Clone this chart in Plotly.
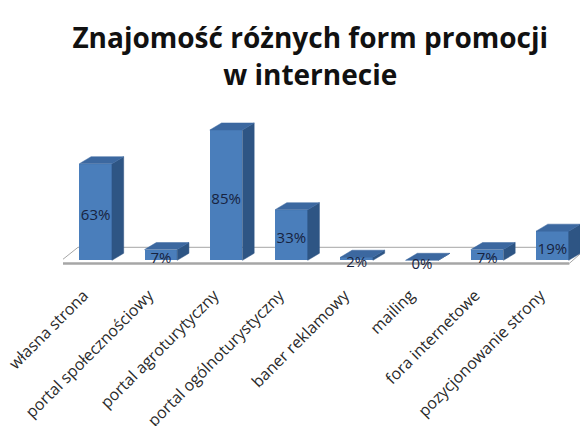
import plotly.graph_objects as go

categories = ["własna strona", "portal społecznościowy", "portal agroturytyczny",
              "portal ogólnoturystyczny", "baner reklamowy", "mailing",
              "fora internetowe", "pozycjonowanie strony"]
values = [63, 7, 85, 33, 2, 0, 7, 19]
labels = [f"{v}%" for v in values]

title_text = "Znajomość różnych form promocji<br>w internecie"

FRONT = "#4A7EBB"
SIDE = "#2E5584"
TOP = "#3C68A0"
BAR_W = 0.5
DX = 0.18
DY = 4.6

xs = list(range(len(categories)))

side_x, side_y, top_x, top_y = [], [], [], []
for i, v in zip(xs, values):
    r = i + BAR_W / 2
    l = i - BAR_W / 2
    side_x += [r, r + DX, r + DX, r, r, None]
    side_y += [0, DY, v + DY, v, 0, None]
    top_x += [l, l + DX, r + DX, r, l, None]
    top_y += [v, v + DY, v + DY, v, v, None]

fig = go.Figure()
fig.add_trace(go.Scatter(x=side_x, y=side_y, mode="lines", fill="toself",
                         fillcolor=SIDE, line=dict(color=SIDE, width=0.5),
                         hoverinfo="skip", showlegend=False))
fig.add_trace(go.Scatter(x=top_x, y=top_y, mode="lines", fill="toself",
                         fillcolor=TOP, line=dict(color=TOP, width=0.5),
                         hoverinfo="skip", showlegend=False))
fig.add_trace(go.Bar(x=xs, y=values, width=BAR_W,
                     marker=dict(color=FRONT, line=dict(width=0)),
                     showlegend=False))
fig.add_trace(go.Scatter(x=xs, y=[v / 2 - 3 for v in values], mode="text",
                         text=labels,
                         textfont=dict(family="Open Sans", size=15, color="#17233F"),
                         cliponaxis=False, showlegend=False, hoverinfo="skip"))

# floor
floor = dict(xref="x", yref="y", layer="below")
fig.add_shape(type="line", x0=-0.58, y0=-2, x1=7.26, y1=-2,
              line=dict(color="#A6A6A6", width=2.5), **floor)
fig.add_shape(type="line", x0=-0.27, y0=8.5, x1=7.54, y1=8.5,
              line=dict(color="#A6A6A6", width=1), **floor)
fig.add_shape(type="line", x0=-0.58, y0=-2, x1=-0.27, y1=8.5,
              line=dict(color="#A6A6A6", width=1), **floor)
fig.add_shape(type="line", x0=7.26, y0=-2, x1=7.54, y1=8.5,
              line=dict(color="#A6A6A6", width=1), **floor)

fig.update_layout(
    width=588, height=426,
    paper_bgcolor="white", plot_bgcolor="white",
    margin=dict(l=55, r=11, t=99, b=166, autoexpand=False),
    title=dict(text=title_text, x=0.514, xanchor="center", y=0.905, yanchor="middle",
               font=dict(family="Open Sans", size=28, color="#111111", weight="bold")),
    bargap=0,
    xaxis=dict(range=[-0.5, 7.5], tickmode="array", tickvals=xs, ticktext=categories,
               tickangle=-45, showgrid=False, zeroline=False, showline=False,
               automargin=False, ticklabeloverflow="allow",
               ticks="", ticklabelstandoff=14, ticklabelshift=-12,
               tickfont=dict(family="Open Sans", size=16, color="#2A2A2A")),
    yaxis=dict(range=[-5, 100], visible=False, showgrid=False, zeroline=False),
)

fig.write_html("out.html")
